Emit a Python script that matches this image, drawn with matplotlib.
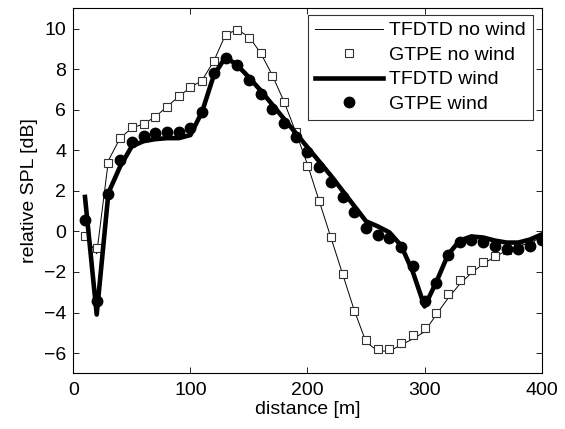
import matplotlib
matplotlib.use("Agg")
import matplotlib.pyplot as plt

plt.rcParams['font.family'] = ['Liberation Sans', 'DejaVu Sans']

# distances [m]
dist = [10, 20, 30, 40, 50, 60, 70, 80, 90, 100,
        110, 120, 130, 140, 150, 160, 170, 180, 190, 200,
        210, 220, 230, 240, 250, 260, 270, 280, 290, 300,
        310, 320, 330, 340, 350, 360, 370, 380, 390, 400]

tfdtd_nowind = [-0.2, -1.1, 3.5, 4.6, 5.1, 5.3, 5.65, 6.15, 6.65, 7.1,
                7.45, 8.4, 9.7, 9.95, 9.6, 8.8, 7.7, 6.4, 4.9, 3.3,
                1.5, -0.3, -2.1, -3.9, -5.45, -5.9, -5.9, -5.6, -5.3, -4.95,
                -4.1, -3.3, -2.6, -2.05, -1.6, -1.25, -0.95, -0.75, -0.55, -0.3]

gtpe_nowind = [-0.21, -0.82, 3.39, 4.59, 5.13, 5.28, 5.65, 6.14, 6.67, 7.13,
               7.44, 8.42, 9.70, 9.95, 9.55, 8.78, 7.68, 6.36, 4.91, 3.24,
               1.51, -0.27, -2.09, -3.93, -5.34, -5.80, -5.80, -5.49, -5.11, -4.75,
               -4.01, -3.10, -2.42, -1.89, -1.51, -1.19, -0.93, -0.75, -0.60, -0.40]

tfdtd_wind = [1.7, -4.1, 1.9, 3.2, 4.2, 4.45, 4.55, 4.6, 4.6, 4.75,
              5.9, 7.7, 8.6, 8.2, 7.6, 6.95, 6.25, 5.55, 4.85, 4.15,
              3.45, 2.75, 2.0, 1.25, 0.5, 0.25, -0.05, -0.7, -2.0, -3.7,
              -2.5, -1.15, -0.45, -0.25, -0.3, -0.45, -0.55, -0.55, -0.4, -0.15]

gtpe_wind = [0.57, -3.44, 1.85, 3.52, 4.42, 4.70, 4.83, 4.90, 4.88, 5.11,
             5.87, 7.81, 8.55, 8.19, 7.49, 6.80, 6.06, 5.36, 4.66, 3.90,
             3.17, 2.46, 1.72, 0.98, 0.15, -0.16, -0.31, -0.76, -1.72, -3.44,
             -2.54, -1.15, -0.54, -0.41, -0.51, -0.72, -0.86, -0.87, -0.70, -0.41]

FS = 14

fig = plt.figure(figsize=(5.65, 4.29), dpi=100)
ax = fig.add_axes([0.1297, 0.1297, 0.8290, 0.8508])

ax.plot(dist, tfdtd_nowind, color='black', lw=0.7, label='TFDTD no wind')
ax.plot(dist, gtpe_nowind, ls='none', marker='s', ms=5.5, mfc='white',
        mec='#333333', mew=0.8, label='GTPE no wind')
ax.plot(dist, tfdtd_wind, color='black', lw=3.3, label='TFDTD wind')
ax.plot(dist, gtpe_wind, ls='none', marker='o', ms=7.5, mfc='black',
        mec='black', label='GTPE wind')

ax.set_xlim(0, 400)
ax.set_ylim(-7, 11)
ax.set_xticks([0, 100, 200, 300, 400])
ax.set_yticks([-6, -4, -2, 0, 2, 4, 6, 8, 10])
ax.tick_params(direction='in', top=True, right=True, labelsize=FS, length=4, width=0.6)
ax.tick_params(axis='x', pad=6.5)
ax.tick_params(axis='y', pad=5)
for s in ax.spines.values():
    s.set_linewidth(0.8)
ax.set_xlabel('distance [m]', fontsize=FS, labelpad=1)
ax.set_ylabel('relative SPL [dB]', fontsize=FS, labelpad=4)

leg = ax.legend(loc='upper right', bbox_to_anchor=(0.9814, 0.9816), borderaxespad=0,
                fontsize=FS, frameon=True, fancybox=False,
                handlelength=3.5, labelspacing=0.35,
                borderpad=0.35, handletextpad=0.35)
leg.get_frame().set_edgecolor('black')
leg.get_frame().set_linewidth(0.8)

fig.savefig('out.png', dpi=100)
